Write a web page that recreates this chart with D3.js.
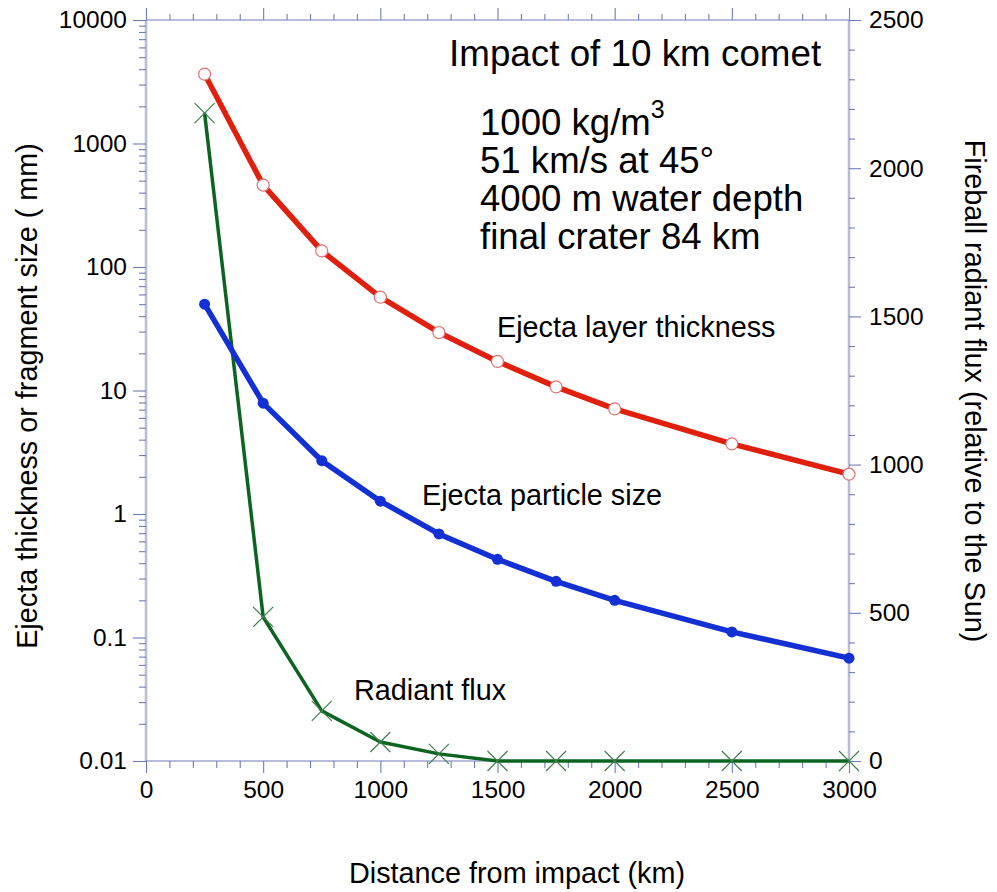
<!DOCTYPE html>
<html><head><meta charset="utf-8">
<script src="https://cdn.jsdelivr.net/npm/d3@7"></script>
<style>body{margin:0;background:#fff}text{font-family:"Liberation Sans",Arial,Helvetica,sans-serif;fill:#000}</style>
</head><body>
<svg id="c" width="997" height="892"></svg>
<script>
const distance = [250, 500, 750, 1000, 1250, 1500, 1750, 2000, 2500, 3000];
const ejectaThickness = [3650, 460, 135, 57, 29.5, 17.2, 10.7, 7.1, 3.7, 2.1];
const particleSize = [50, 7.9, 2.7, 1.27, 0.69, 0.43, 0.285, 0.2, 0.111, 0.068];
const radiantFlux = [2186, 486, 169, 64, 24, 0, 0, 0, 0, 0];
const xTicks = [0, 500, 1000, 1500, 2000, 2500, 3000];
const yLeftTicks = [0.01, 0.1, 1, 10, 100, 1000, 10000];
const yLeftLabels = ["0.01", "0.1", "1", "10", "100", "1000", "10000"];
const yRightTicks = [0, 500, 1000, 1500, 2000, 2500];
const infoLines = ["51 km/s at 45°", "4000 m water depth", "final crater 84 km"];

const svg = d3.select("#c");
const L = 146, R = 849, T = 20, B = 761;
const x = d3.scaleLinear().domain([0, 3000]).range([L, R]);
const yL = d3.scaleLog().domain([0.01, 10000]).range([B, T]);
const yR = d3.scaleLinear().domain([0, 2500]).range([B, T]);

const axisCol = "#6f7cb8", lineCol = "#b9bcd2";
const fs = 24.5;

const xMinor = d3.range(0, 3001, 100).filter(v => v % 500 !== 0);
const yLMinor = [];
for (let e = -2; e < 4; e++) for (let m = 2; m <= 9; m++) yLMinor.push(m * Math.pow(10, e));
const yRMinor = d3.range(0, 2501, 100).filter(v => v % 500 !== 0);

function styleAxis(g) {
  g.select(".domain").remove();
  g.selectAll(".tick line").attr("stroke", axisCol).attr("stroke-width", 1.1);
  g.selectAll(".tick text").style("font-size", fs + "px").attr("fill", "#000");
}

svg.append("line").attr("x1", L).attr("x2", L).attr("y1", T).attr("y2", B).attr("stroke", lineCol).attr("stroke-width", 2.5);
svg.append("line").attr("x1", R).attr("x2", R).attr("y1", T).attr("y2", B).attr("stroke", lineCol).attr("stroke-width", 2.5);
svg.append("line").attr("x1", L).attr("x2", R).attr("y1", T).attr("y2", T).attr("stroke", axisCol).attr("stroke-width", 1.2);
svg.append("line").attr("x1", L).attr("x2", R).attr("y1", B).attr("y2", B).attr("stroke", axisCol).attr("stroke-width", 1.2);

svg.append("g").attr("transform", `translate(0,${B})`)
  .call(d3.axisBottom(x).tickValues(xMinor).tickSize(7).tickFormat("")).call(styleAxis);
svg.append("g").attr("transform", `translate(0,${B})`)
  .call(d3.axisBottom(x).tickValues(xTicks).tickSize(12).tickPadding(8).tickFormat(d3.format("d"))).call(styleAxis);
svg.append("g").attr("transform", `translate(0,${T})`)
  .call(d3.axisTop(x).tickValues(xMinor).tickSize(6).tickFormat("")).call(styleAxis);
svg.append("g").attr("transform", `translate(0,${T})`)
  .call(d3.axisTop(x).tickValues(xTicks).tickSize(12).tickFormat("")).call(styleAxis);
svg.append("g").attr("transform", `translate(${L},0)`)
  .call(d3.axisLeft(yL).tickValues(yLMinor).tickSize(7).tickFormat("")).call(styleAxis);
svg.append("g").attr("transform", `translate(${L},0)`)
  .call(d3.axisLeft(yL).tickValues(yLeftTicks).tickSize(13).tickPadding(6).tickFormat((d, i) => yLeftLabels[i])).call(styleAxis);
svg.append("g").attr("transform", `translate(${R},0)`)
  .call(d3.axisRight(yR).tickValues(yRMinor).tickSize(6).tickFormat("")).call(styleAxis);
svg.append("g").attr("transform", `translate(${R},0)`)
  .call(d3.axisRight(yR).tickValues(yRightTicks).tickSize(12).tickPadding(8).tickFormat(d3.format("d"))).call(styleAxis);

const data = distance.map((d, i) => ({d, t: ejectaThickness[i], p: particleSize[i], f: radiantFlux[i]}));
const gLine = d3.line().x(d => x(d.d)).y(d => yR(d.f));
const tLine = d3.line().x(d => x(d.d)).y(d => yL(d.t));
const pLine = d3.line().x(d => x(d.d)).y(d => yL(d.p));

svg.append("path").datum(data).attr("d", gLine).attr("fill", "none").attr("stroke", "#0b6420").attr("stroke-width", 3.5).attr("stroke-linejoin", "round");
svg.append("g").selectAll("path").data(data).join("path")
  .attr("transform", d => `translate(${x(d.d)},${yR(d.f)})`)
  .attr("d", "M-10,-10L10,10M-10,10L10,-10")
  .attr("stroke", "#3e7f4c").attr("stroke-width", 1.2).attr("fill", "none");

svg.append("path").datum(data).attr("d", tLine).attr("fill", "none").attr("stroke", "#e0200c").attr("stroke-width", 5.5).attr("stroke-linejoin", "round");
svg.append("g").selectAll("circle").data(data).join("circle")
  .attr("cx", d => x(d.d)).attr("cy", d => yL(d.t)).attr("r", 6)
  .attr("fill", "#fff").attr("stroke", "#e07272").attr("stroke-width", 1.2);

svg.append("path").datum(data).attr("d", pLine).attr("fill", "none").attr("stroke", "#1330d4").attr("stroke-width", 5.5).attr("stroke-linejoin", "round");
svg.append("g").selectAll("circle").data(data).join("circle")
  .attr("cx", d => x(d.d)).attr("cy", d => yL(d.p)).attr("r", 5.5)
  .attr("fill", "#1330d4");

svg.append("text").attr("x", 449).attr("y", 66).style("font-size", "36.8px").text("Impact of 10 km comet");
const t1 = svg.append("text").attr("x", 480).attr("y", 135).style("font-size", "36.6px");
t1.append("tspan").text("1000 kg/m");
t1.append("tspan").attr("dy", -17).style("font-size", "25px").text("3");
infoLines.forEach((s, i) => svg.append("text").attr("x", 480).attr("y", 173 + i * 38).style("font-size", "36.6px").text(s));

svg.append("text").attr("x", 497).attr("y", 337).style("font-size", "28.8px").text("Ejecta layer thickness");
svg.append("text").attr("x", 422).attr("y", 505).style("font-size", "28.8px").text("Ejecta particle size");
svg.append("text").attr("x", 354).attr("y", 700).style("font-size", "28.8px").text("Radiant flux");

svg.append("text").attr("x", 517).attr("y", 883).attr("text-anchor", "middle").style("font-size", "28.8px").text("Distance from impact (km)");
svg.append("text").attr("transform", "translate(37,396) rotate(-90)").attr("text-anchor", "middle").style("font-size", "28.8px").text("Ejecta thickness or fragment size ( mm)");
svg.append("text").attr("transform", "translate(965,391) rotate(90)").attr("text-anchor", "middle").style("font-size", "28.8px").text("Fireball radiant flux (relative to the Sun)");
</script>
</body></html>
